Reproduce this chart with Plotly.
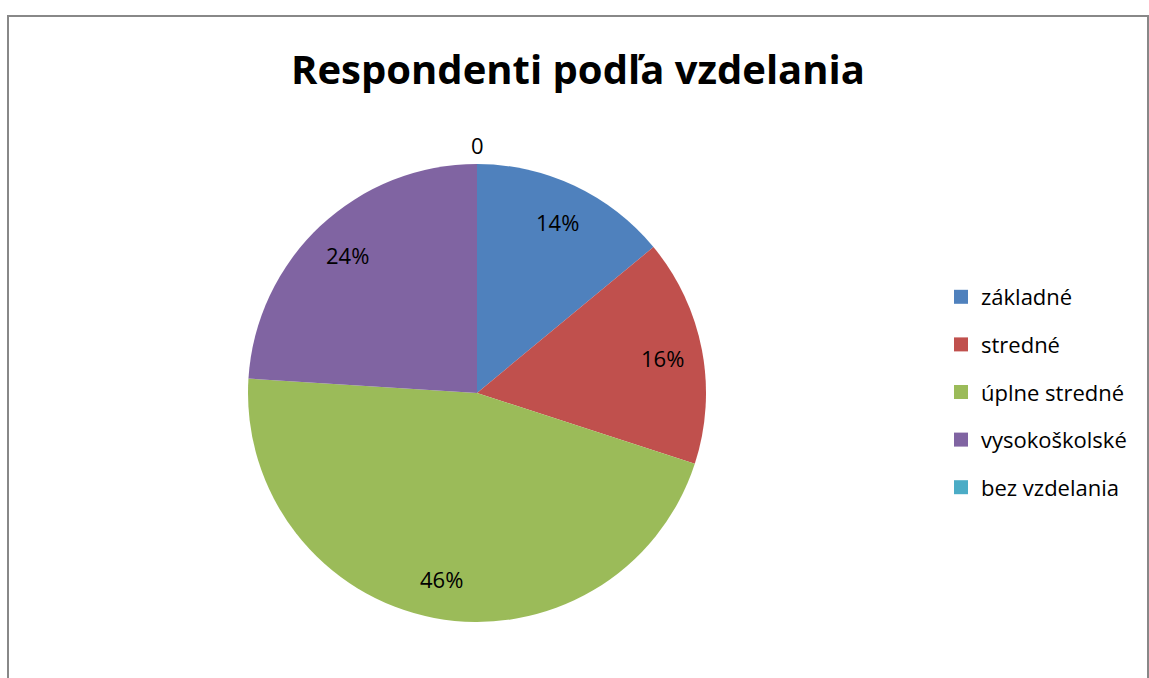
import math

import plotly.graph_objects as go

# data
categories = ["základné", "stredné", "úplne stredné", "vysokoškolské", "bez vzdelania"]
shares = [14, 16, 46, 24, 0]
colors = ["#4F81BD", "#C0504D", "#9BBB59", "#8064A2", "#4BACC6"]

W, H = 1149, 678
FONT = "'Open Sans', sans-serif"

# pie placement in pixels
CX, CY, R = 477, 393, 229
dom_x = [(CX - R) / W, (CX + R) / W]
dom_y = [1 - (CY + R) / H, 1 - (CY - R) / H]

fig = go.Figure()

fig.add_trace(
    go.Pie(
        labels=categories,
        values=shares,
        textinfo="none",
        marker=dict(colors=colors, line_width=0),
        sort=False,
        direction="clockwise",
        rotation=0,
        domain=dict(x=dom_x, y=dom_y),
        showlegend=False,
        hoverinfo="label+percent",
    )
)

# legend entries, one group each so they can be spaced like the original
for name, col in zip(categories, colors):
    fig.add_trace(
        go.Scatter(
            x=[None],
            y=[None],
            mode="markers",
            name=name,
            legendgroup=name,
            marker=dict(symbol="square", size=14, color=col),
        )
    )

# data labels, placed like excel's "best fit" (about 0.83 R out, on the slice middle)
total = sum(shares)
cum = 0
for name, v in zip(categories, shares):
    mid = (cum + v / 2) / total * 2 * math.pi
    cum += v
    if v == 0:
        # no room inside: value goes above the pie
        lx, ly, txt = CX, CY - R - 19, f"{v}"
    else:
        lx = CX + 0.826 * R * math.sin(mid)
        ly = CY - 0.826 * R * math.cos(mid)
        txt = f"{v / total:.0%}"
    fig.add_annotation(
        text=txt,
        x=lx / W,
        y=1 - ly / H,
        xref="paper",
        yref="paper",
        xanchor="center",
        yanchor="middle",
        showarrow=False,
        font=dict(size=22, color="black", family=FONT),
    )

# chart frame
fig.add_shape(
    type="rect",
    xref="paper",
    yref="paper",
    x0=8 / W,
    x1=1148 / W,
    y0=-0.2,
    y1=1 - 16 / H,
    line=dict(color="#888888", width=2),
    fillcolor="rgba(0,0,0,0)",
)

fig.update_layout(
    width=W,
    height=H,
    margin=dict(t=0, r=0, b=0, l=0),
    paper_bgcolor="white",
    plot_bgcolor="white",
    title=dict(
        text="<b>Respondenti podľa vzdelania</b>",
        x=578 / W,
        xanchor="center",
        y=1 - 70 / H,
        yanchor="middle",
        font=dict(size=40, color="black", family=FONT),
    ),
    legend=dict(
        x=941 / W,
        y=1 - 276 / H,
        xanchor="left",
        yanchor="top",
        tracegroupgap=16,
        font=dict(size=22, color="black", family=FONT),
        bgcolor="rgba(0,0,0,0)",
    ),
    xaxis=dict(visible=False),
    yaxis=dict(visible=False),
)

fig.write_html(
    "out.html",
    config={"displayModeBar": False},
    post_script="document.body.style.margin='0';document.body.style.overflow='hidden';",
)
